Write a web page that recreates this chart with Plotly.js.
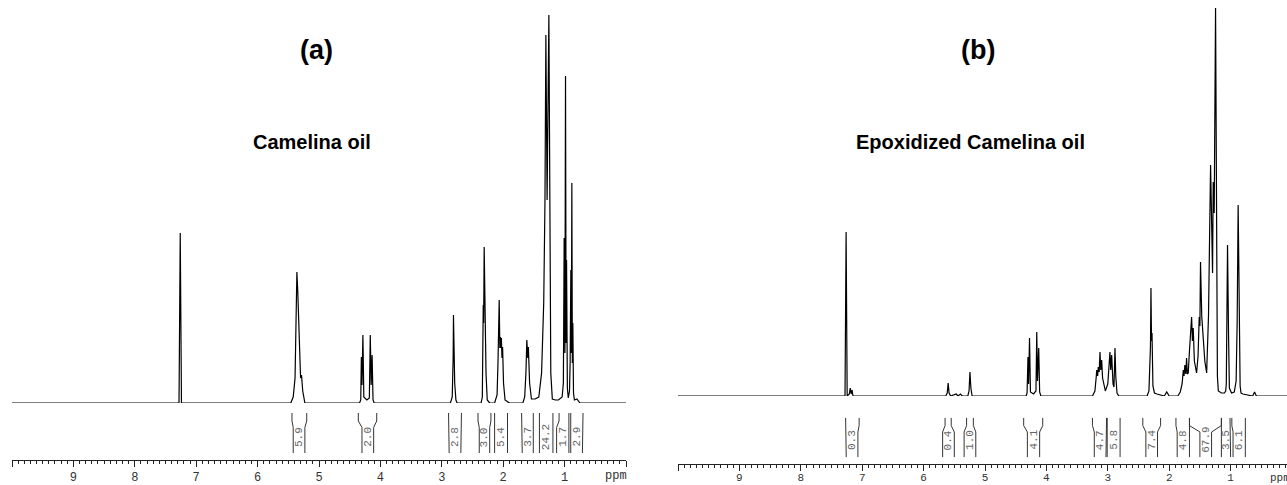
<!DOCTYPE html>
<html>
<head>
<meta charset="utf-8">
<script src="https://cdn.plot.ly/plotly-3.0.1.min.js"></script>
<style>
html, body { margin: 0; padding: 0; overflow: hidden; background: #fff; }
#chart { width: 1300px; height: 485px; }
</style>
</head>
<body>
<div id="chart"></div>
<script>
// ---------- Data: spectrum (a) Camelina oil ----------
const ppmA = [10.00,
  7.28, 7.26, 7.24,
  5.46, 5.42, 5.39, 5.37, 5.36, 5.345, 5.32, 5.30, 5.285, 5.265, 5.23,
  4.34, 4.32, 4.31, 4.30, 4.285, 4.27, 4.22, 4.18, 4.165, 4.15, 4.135, 4.12, 4.10,
  2.86, 2.83, 2.82, 2.815, 2.81, 2.80, 2.79, 2.77, 2.75,
  2.36, 2.34, 2.325, 2.318, 2.31, 2.30, 2.292, 2.28, 2.26, 2.22,
  2.14, 2.10, 2.085, 2.08, 2.07, 2.065, 2.055, 2.045, 2.035, 2.03, 2.02, 2.01, 1.995, 1.97, 1.90,
  1.68, 1.65, 1.63, 1.615, 1.60, 1.59, 1.57, 1.54, 1.48,
  1.42, 1.375, 1.34, 1.32, 1.305, 1.285, 1.256, 1.24, 1.225, 1.20, 1.15,
  1.10, 1.04, 1.02, 1.007, 0.995, 0.985, 0.975, 0.968, 0.955, 0.94, 0.92, 0.91, 0.898, 0.89, 0.882, 0.874, 0.866, 0.855, 0.84, 0.80, 0.75,
  0.00];
const intA = [0,
  0, 170, 0,
  0, 6, 25, 85, 131, 110, 53, 25, 28, 12, 0,
  0, 3, 46, 18, 68, 6, 3, 5, 68, 18, 48, 3, 0,
  0, 6, 33, 45, 88, 40, 20, 3, 0,
  0, 6, 98, 80, 156, 90, 96, 30, 3, 0,
  0, 8, 40, 70, 60, 103, 55, 66, 55, 65, 45, 56, 20, 3, 0,
  0, 6, 30, 63, 45, 56, 20, 4, 4,
  6, 30, 100, 200, 368, 203, 388, 150, 30, 4, 3,
  3, 6, 20, 165, 50, 327, 60, 143, 15, 5, 12, 40, 133, 50, 220, 40, 80, 10, 3, 4, 0,
  0];

// ---------- Data: spectrum (b) Epoxidized Camelina oil ----------
const ppmB = [10.00,
  7.28, 7.262, 7.245, 7.21, 7.195, 7.18, 7.165, 7.15,
  5.64, 5.615, 5.60, 5.585, 5.56, 5.47, 5.44, 5.40, 5.37,
  5.28, 5.26, 5.245, 5.23, 5.21,
  4.33, 4.315, 4.30, 4.29, 4.275, 4.26, 4.21, 4.17, 4.157, 4.145, 4.125, 4.11, 4.09,
  3.25, 3.21, 3.19, 3.18, 3.165, 3.155, 3.14, 3.127, 3.115, 3.10, 3.085, 3.07, 3.04, 3.00, 2.965, 2.952, 2.937, 2.915, 2.90, 2.89, 2.883, 2.87, 2.85, 2.82,
  2.36, 2.33, 2.314, 2.305, 2.297, 2.288, 2.28, 2.265, 2.24, 2.20,
  2.08, 2.04, 2.00,
  1.86, 1.82, 1.79, 1.77, 1.758, 1.745, 1.73, 1.717, 1.705, 1.69, 1.67, 1.635, 1.622, 1.609, 1.59, 1.554, 1.53, 1.511, 1.50, 1.49, 1.47, 1.446, 1.42, 1.39,
  1.36, 1.326, 1.31, 1.294, 1.283, 1.267, 1.245, 1.23, 1.215, 1.20, 1.15, 1.10,
  1.08, 1.07, 1.066, 1.05, 1.033, 1.02, 0.985, 0.94, 0.91, 0.893, 0.877, 0.86, 0.845, 0.83, 0.80, 0.64, 0.61, 0.58,
  0.00];
const intB = [0,
  0, 164, 0, 2, 8, 2, 6, 0,
  0, 3, 13, 3, 0, 2, 0, 2, 0,
  0, 5, 24, 8, 0,
  0, 3, 39, 12, 58, 4, 2, 5, 64, 15, 48, 4, 0,
  0, 5, 18, 26, 20, 29, 24, 44, 26, 36, 18, 13, 5, 12, 44, 26, 41, 12, 9, 30, 48, 20, 3, 0,
  0, 5, 29, 50, 108, 55, 63, 10, 3, 2,
  0, 4, 0,
  0, 4, 12, 26, 20, 31, 22, 38, 22, 23, 45, 79, 55, 68, 35, 23, 40, 79, 70, 134, 80, 55, 35, 23,
  80, 231, 150, 123, 214, 183, 388, 120, 20, 5, 3, 3,
  5, 12, 71, 151, 59, 8, 3, 4, 15, 74, 191, 63, 10, 3, 2, 0, 4, 0,
  0];

// ---------- Integrals (ppm bounds at top / bottom of each bracket line) ----------
const intLabelsA = ['5.9', '2.0', '2.8', '3.0', '5.4', '3.7', '24.2', '1.7', '2.9'];
const intTopHiA  = [5.44, 4.36, 2.89, 2.41, 2.14, 1.70, 1.41, 1.09, 0.90];
const intBotHiA  = [5.42, 4.30, 2.88, 2.39, 2.14, 1.69, 1.41, 1.13, 0.90];
const intTopLoA  = [5.20, 4.06, 2.68, 2.20, 1.93, 1.51, 1.19, 0.93, 0.70];
const intBotLoA  = [5.23, 4.11, 2.69, 2.22, 1.93, 1.51, 1.19, 0.93, 0.71];

const intLabelsB = ['0.3', '0.4', '1.0', '4.1', '4.7', '5.8', '7.4', '4.8', '67.9', '3.5', '6.1'];
const intTopHiB  = [7.27, 5.65, 5.30, 4.37, 3.25, 3.01, 2.43, 1.89, 1.67, 1.15, 0.98];
const intBotHiB  = [7.26, 5.69, 5.34, 4.31, 3.22, 3.01, 2.38, 1.87, 1.50, 1.15, 0.96];
const intTopLoB  = [7.05, 5.55, 5.19, 4.06, 3.02, 2.80, 2.14, 1.67, 1.15, 1.01, 0.76];
const intBotLoB  = [7.07, 5.50, 5.15, 4.11, 3.03, 2.80, 2.19, 1.67, 1.31, 1.00, 0.76];

const tickVals = [10, 9, 8, 7, 6, 5, 4, 3, 2, 1, 0];
const tickText = ['', '9', '8', '7', '6', '5', '4', '3', '2', '1', ''];

// ---------- Layout helpers ----------
const W = 1300, H = 485;
const px = v => v / W;
const py = v => (H - v) / H;

function bracketPath(topHi, botHi, topLo, botLo) {
  const xs = [], ys = [];
  for (let i = 0; i < topHi.length; i++) {
    xs.push(topHi[i], topHi[i], botHi[i], botHi[i], null);
    ys.push(1, 0.80, 0.64, 0, null);
    xs.push(topLo[i], topLo[i], botLo[i], botLo[i], null);
    ys.push(1, 0.80, 0.64, 0, null);
  }
  return {xs, ys};
}
const brA = bracketPath(intTopHiA, intBotHiA, intTopLoA, intBotLoA);
const brB = bracketPath(intTopHiB, intBotHiB, intTopLoB, intBotLoB);

const specLine = {color: '#000', width: 1.2};
const intLine = {color: '#333', width: 1};

const traces = [
  {x: ppmA, y: intA, xaxis: 'x', yaxis: 'y', mode: 'lines', line: specLine, hoverinfo: 'skip'},
  {x: ppmB, y: intB, xaxis: 'x2', yaxis: 'y2', mode: 'lines', line: specLine, hoverinfo: 'skip'},
  {x: brA.xs, y: brA.ys, xaxis: 'x', yaxis: 'y3', mode: 'lines', line: intLine, connectgaps: false, hoverinfo: 'skip'},
  {x: brB.xs, y: brB.ys, xaxis: 'x2', yaxis: 'y4', mode: 'lines', line: intLine, connectgaps: false, hoverinfo: 'skip'}
];

const tickFont = {family: 'Liberation Mono, DejaVu Sans Mono, monospace', size: 12, color: '#333'};
const tickFontB = {family: 'Liberation Mono, DejaVu Sans Mono, monospace', size: 11, color: '#333'};
function xAxis(domain, position, font, standoff) {
  return {
    domain: domain, range: [10, 0], anchor: 'free', position: position,
    showline: true, linecolor: '#222', linewidth: 1,
    ticks: 'outside', ticklen: 6, tickwidth: 1, tickcolor: '#222',
    tickmode: 'array', tickvals: tickVals, ticktext: tickText,
    tickfont: font, ticklabelstandoff: standoff, showgrid: false, zeroline: false,
    minor: {ticks: 'outside', ticklen: 3, tickwidth: 1, tickcolor: '#222', dtick: 0.1, tick0: 0, showgrid: false}
  };
}
function hiddenY(domain, range, anchor) {
  return {domain: domain, range: range, anchor: anchor, visible: false, showgrid: false, zeroline: false, fixedrange: true};
}

const annotations = [];
const labFont = {family: 'Liberation Mono, DejaVu Sans Mono, monospace', size: 11, color: '#666'};
intLabelsA.forEach((t, i) => annotations.push({
  text: t, xref: 'x', yref: 'paper', x: (intBotHiA[i] + intBotLoA[i]) / 2, y: py(437),
  textangle: -90, showarrow: false, font: labFont, xanchor: 'center', yanchor: 'middle'
}));
intLabelsB.forEach((t, i) => annotations.push({
  text: t, xref: 'x2', yref: 'paper', x: (intBotHiB[i] + intBotLoB[i]) / 2, y: py(440),
  textangle: -90, showarrow: false, font: labFont, xanchor: 'center', yanchor: 'middle'
}));
annotations.push({text: 'ppm', xref: 'x', yref: 'paper', x: 0.17, y: py(476), showarrow: false, font: tickFont, xanchor: 'center', yanchor: 'middle'});
annotations.push({text: 'ppm', xref: 'x2', yref: 'paper', x: 0.20, y: py(478), showarrow: false, font: tickFontB, xanchor: 'center', yanchor: 'middle'});

const titleFontBig = {family: 'Liberation Sans, Arial, sans-serif', size: 27, color: '#000', weight: 700};
const titleFont = {family: 'Liberation Sans, Arial, sans-serif', size: 20, color: '#000', weight: 700};
annotations.push({text: '<b>(a)</b>', xref: 'paper', yref: 'paper', x: px(316.7), y: py(50), showarrow: false, font: titleFontBig, xanchor: 'center', yanchor: 'middle'});
annotations.push({text: '<b>(b)</b>', xref: 'paper', yref: 'paper', x: px(978.3), y: py(50), showarrow: false, font: titleFontBig, xanchor: 'center', yanchor: 'middle'});
annotations.push({text: '<b>Camelina oil</b>', xref: 'paper', yref: 'paper', x: px(311.7), y: py(142), showarrow: false, font: titleFont, xanchor: 'center', yanchor: 'middle'});
annotations.push({text: '<b>Epoxidized Camelina oil</b>', xref: 'paper', yref: 'paper', x: px(970), y: py(142), showarrow: false, font: titleFont, xanchor: 'center', yanchor: 'middle'});

const layout = {
  width: W, height: H,
  margin: {l: 0, r: 0, t: 0, b: 0, pad: 0},
  paper_bgcolor: '#fff', plot_bgcolor: 'rgba(0,0,0,0)',
  showlegend: false,
  xaxis: xAxis([px(12), px(626)], py(460), tickFont, 0),
  xaxis2: xAxis([px(678), px(1292)], py(464), tickFontB, -3),
  yaxis: hiddenY([py(403), 1], [0, 403], 'x'),
  yaxis2: hiddenY([py(396), 1], [0, 396], 'x2'),
  yaxis3: hiddenY([py(453), py(413)], [0, 1], 'x'),
  yaxis4: hiddenY([py(457.3), py(417.7)], [0, 1], 'x2'),
  annotations: annotations
};

Plotly.newPlot('chart', traces, layout, {staticPlot: true, displayModeBar: false});
</script>
</body>
</html>
